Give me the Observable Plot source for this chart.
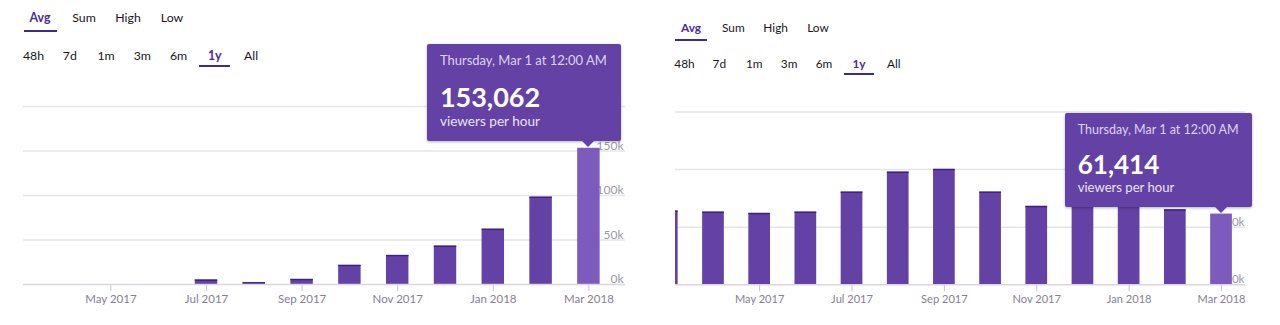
<!DOCTYPE html>
<html>
<head>
<meta charset="utf-8">
<script src="https://cdn.jsdelivr.net/npm/d3@7"></script>
<script src="https://cdn.jsdelivr.net/npm/@observablehq/plot@0.6"></script>
<style>
html, body { margin: 0; padding: 0; background: #fff; }
body { width: 1280px; height: 325px; position: relative; overflow: hidden; font-family: Lato, "Open Sans", sans-serif; }
.panel { position: absolute; top: 0; width: 640px; height: 325px; }
.tab { position: absolute; text-align: center; color: #19171c; line-height: 16px; white-space: nowrap; }
.tab.active { color: #4b2c9c; font-weight: 700; }
.tab .ul { position: absolute; height: 2px; background: #3f2a8f; }
.chart { position: absolute; left: 0; top: 80px; }
.chart svg { overflow: visible; }
.chart g[aria-label="x-axis"] line, .chart g[aria-label="x-axis tick"] path { stroke: #c8c5ce; }
.tip { position: absolute; background: #6441a4; color: #fff; border-radius: 2px; box-shadow: 0 1px 3px rgba(0,0,0,0.3); }
.tip .arrow { position: absolute; width: 0; height: 0; border-left: 6px solid transparent; border-right: 6px solid transparent; border-top: 6px solid #6441a4; }
.tip div.t { position: absolute; white-space: nowrap; line-height: 1.2; }
</style>
</head>
<body>
<div class="panel" id="left" style="left:0px"></div>
<div class="panel" id="right" style="left:640px"></div>
<script>
// ---- data ----
const months = ["2017-03","2017-04","2017-05","2017-06","2017-07","2017-08","2017-09","2017-10","2017-11","2017-12","2018-01","2018-02","2018-03"];
const tickMonths = ["2017-05","2017-07","2017-09","2017-11","2018-01","2018-03"];
const tickLabels = ["May 2017","Jul 2017","Sep 2017","Nov 2017","Jan 2018","Mar 2018"];
const leftValues = [0, 0, 0, 0, 4900, 1900, 5600, 21400, 32500, 43000, 62000, 98000, 153062];
const rightValues = [63900, 63000, 61900, 63000, 80400, 97700, 100100, 80400, 68000, 71000, 69000, 65000, 61414];
const leftYTicks = [0, 50000, 100000, 150000, 200000];
const rightYTicks = [0, 50000, 100000, 150000];
const metricTabs = ["Avg", "Sum", "High", "Low"];
const rangeTabs = ["48h", "7d", "1m", "3m", "6m", "1y", "All"];
const activeMetric = "Avg";
const activeRange = "1y";
const selectedMonth = "2018-03";
const tooltipDate = "Thursday, Mar 1 at 12:00 AM";
const tooltipUnit = "viewers per hour";

// ---- layout per panel (local px) ----
const leftCfg = {
  s: 1,
  row1: {cy: 18, start: 18, w: 44, uy: 31, inset: 5.5},
  row2: {cy: 56, start: 15.4, w: 36.25, uy: 66, inset: 2.6},
  frameL: 23, frameR: 625, labelDx: -2, yTop: 26, yBottom: 204,
  xRange: [-9.1, 612.3]
};
const rightCfg = {
  s: 0.965,
  row1: {cy: 28, start: 29.9, w: 42.3, uy: 40, inset: 5.15},
  row2: {cy: 63.5, start: 27, w: 34.9, uy: 74, inset: 2.45},
  frameL: 35, frameR: 605, labelDx: -1, yTop: 31.5, yBottom: 204.3,
  xRange: [3.7, 604.1]
};

function tabs(el, items, active, row, s) {
  items.forEach((name, i) => {
    const d = document.createElement("div");
    d.className = "tab" + (name === active ? " active" : "");
    d.textContent = name;
    const fs = 12.3 * s;
    d.style.fontSize = fs + "px";
    d.style.left = (row.start + i * row.w) + "px";
    d.style.width = row.w + "px";
    d.style.top = (row.cy - 8) + "px";
    if (name === active) {
      const u = document.createElement("div");
      u.className = "ul";
      u.style.left = row.inset + "px";
      u.style.right = row.inset + "px";
      u.style.top = (row.uy - (row.cy - 8) - 1) + "px";
      d.appendChild(u);
    }
    el.appendChild(d);
  });
}

function drawPanel(id, cfg, values, yTicks) {
  const el = document.getElementById(id);
  tabs(el, metricTabs, activeMetric, cfg.row1, cfg.s);
  tabs(el, rangeTabs, activeRange, cfg.row2, cfg.s);

  const data = months.map((m, i) => ({month: m, value: values[i]}));
  const H = 245;
  const plot = Plot.plot({
    width: 640,
    height: H,
    marginLeft: cfg.frameL,
    marginRight: 640 - cfg.frameR,
    marginTop: cfg.yTop,
    marginBottom: H - cfg.yBottom,
    style: {background: "transparent", fontFamily: "Lato, 'Open Sans', sans-serif", fontSize: (11.5 * cfg.s) + "px", color: "#86818f", overflow: "visible"},
    x: {type: "band", domain: months, range: cfg.xRange, round: false, paddingInner: 0.53, paddingOuter: 0.265,
        ticks: tickMonths, tickFormat: m => tickLabels[tickMonths.indexOf(m)], tickSize: 7, tickPadding: 3, label: null},
    y: {domain: [0, yTicks[yTicks.length - 1]], range: [cfg.yBottom, cfg.yTop], axis: null},
    marks: [
      Plot.ruleY(yTicks.slice(1), {stroke: "#e6e4ea", strokeWidth: 1.5}),
      Plot.text(yTicks.slice(0, -1), {y: d => d, frameAnchor: "right", textAnchor: "end", lineAnchor: "bottom", dy: -1.5, dx: cfg.labelDx,
        text: d => (d / 1000) + "k", fill: "#9c98a3", fontSize: 12 * cfg.s}),
      Plot.barY(data.filter(d => d.month !== selectedMonth), {x: "month", y: "value", fill: "#6441a4", clip: true}),
      Plot.barY(data.filter(d => d.month === selectedMonth), {x: "month", y: "value", fill: "#7c5bbd", clip: true}),
      Plot.tickY(data.filter(d => d.month !== selectedMonth && d.value > 0), {x: "month", y: "value", stroke: "#3c2380", strokeWidth: 1.5, clip: true}),
      Plot.ruleY([0], {stroke: "#d9d6e2", strokeWidth: 1.5})
    ]
  });
  const wrap = document.createElement("div");
  wrap.className = "chart";
  wrap.appendChild(plot);
  el.appendChild(wrap);

  // tooltip anchored to the selected bar via the plot's scales
  const xs = plot.scale("x"), ys = plot.scale("y");
  const sel = data.find(d => d.month === selectedMonth);
  const cx = xs.apply(sel.month) + xs.bandwidth / 2;
  const top = 80 + ys.apply(sel.value);
  const s = cfg.s;
  const w = 194 * s, h = 97 * s;
  const tip = document.createElement("div");
  tip.className = "tip";
  tip.style.width = w + "px";
  tip.style.height = h + "px";
  const left = cx + 32.5 * s - w;
  const tTop = top - 7 * s - h;
  tip.style.left = left + "px";
  tip.style.top = tTop + "px";
  const lines = [
    {text: tooltipDate, fs: 13 * s, base: 22 * s, color: "#ddd3f1", weight: 400},
    {text: d3.format(",")(sel.value), fs: 27 * s, base: 63.5 * s, color: "#ffffff", weight: 700},
    {text: tooltipUnit, fs: 13.6 * s, base: 83 * s, color: "#e9e3f6", weight: 400}
  ];
  lines.forEach(l => {
    const t = document.createElement("div");
    t.className = "t";
    t.textContent = l.text;
    t.style.fontSize = l.fs + "px";
    t.style.fontWeight = l.weight;
    t.style.color = l.color;
    t.style.left = (13 * s) + "px";
    t.style.top = (l.base - l.fs * 0.987) + "px";
    tip.appendChild(t);
  });
  const arrow = document.createElement("div");
  arrow.className = "arrow";
  arrow.style.left = (cx - left - 6) + "px";
  arrow.style.top = h + "px";
  tip.appendChild(arrow);
  el.appendChild(tip);
}

drawPanel("left", leftCfg, leftValues, leftYTicks);
drawPanel("right", rightCfg, rightValues, rightYTicks);
</script>
</body>
</html>
